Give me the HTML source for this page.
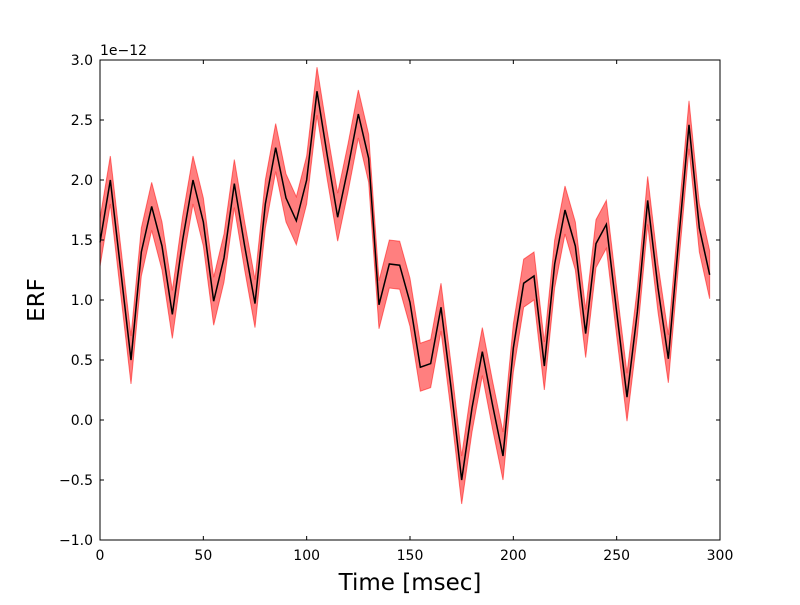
<!DOCTYPE html>
<html><head><meta charset="utf-8"><style>
body{margin:0;background:#fff;}
svg text{font-family:"DejaVu Sans","Liberation Sans",sans-serif;}
</style></head><body>
<svg id="chart" width="800" height="600" viewBox="0 0 800 600" xmlns="http://www.w3.org/2000/svg">
<rect width="800" height="600" fill="#fff"/>
<g id="plot"></g>
</svg>
<script>
const times = [0,5,10,15,20,25,30,35,40,45,50,55,60,65,70,75,80,85,90,95,100,105,110,115,120,125,130,135,140,145,150,155,160,165,170,175,180,185,190,195,200,205,210,215,220,225,230,235,240,245,250,255,260,265,270,275,280,285,290,295];
const meanValues = [1.48,2.0,1.25,0.5,1.4,1.78,1.45,0.88,1.5,2.0,1.65,0.99,1.35,1.97,1.45,0.97,1.8,2.27,1.85,1.66,2.0,2.74,2.2,1.69,2.1,2.55,2.18,0.96,1.3,1.29,0.98,0.44,0.47,0.94,0.25,-0.5,0.1,0.57,0.12,-0.3,0.6,1.14,1.2,0.45,1.3,1.75,1.45,0.72,1.47,1.63,0.9,0.19,0.9,1.83,1.1,0.51,1.5,2.46,1.6,1.21];
const errValues = [0.2,0.2,0.2,0.2,0.2,0.2,0.2,0.2,0.2,0.2,0.2,0.2,0.2,0.2,0.2,0.2,0.2,0.2,0.2,0.2,0.2,0.2,0.2,0.2,0.2,0.2,0.2,0.2,0.2,0.2,0.2,0.2,0.2,0.2,0.2,0.2,0.2,0.2,0.2,0.2,0.2,0.2,0.2,0.2,0.2,0.2,0.2,0.2,0.2,0.2,0.2,0.2,0.2,0.2,0.2,0.2,0.2,0.2,0.2,0.2];
const xTicks = [0,50,100,150,200,250,300];
const yTicks = [-1.0,-0.5,0.0,0.5,1.0,1.5,2.0,2.5,3.0];

const L=100,R=720,T=60,B=540;
const xs = v => L + (v-0)/(300-0)*(R-L);
const ys = v => B - (v-(-1))/(3-(-1))*(B-T);
const NS="http://www.w3.org/2000/svg";
const g=document.getElementById('plot');
function mk(tag,attrs){const e=document.createElementNS(NS,tag);for(const k in attrs)e.setAttribute(k,attrs[k]);g.appendChild(e);return e;}

let up=times.map((t,i)=>xs(t)+','+ys(meanValues[i]+errValues[i]));
let lo=times.map((t,i)=>xs(t)+','+ys(meanValues[i]-errValues[i])).reverse();
const band=mk('polygon',{points:up.concat(lo).join(' '),fill:'rgba(255,0,0,0.5)',stroke:'rgba(255,0,0,0.5)','stroke-width':1});


const line=mk('polyline',{points:times.map((t,i)=>xs(t)+','+ys(meanValues[i])).join(' '),fill:'none',stroke:'#000','stroke-width':1.5});



const frame=mk('rect',{x:L,y:T,width:R-L,height:B-T,fill:'none',stroke:'#000','stroke-width':1});



xTicks.forEach(v=>{
  const x=xs(v);
  mk('line',{x1:x,y1:B,x2:x,y2:B-4,stroke:'#000'});
  mk('line',{x1:x,y1:T,x2:x,y2:T+4,stroke:'#000'});
  const t=mk('text',{x:x,y:B+20,'text-anchor':'middle','font-size':14});
  t.textContent=v;
  
  
});
yTicks.forEach(v=>{
  const y=ys(v);
  mk('line',{x1:L,y1:y,x2:L+4,y2:y,stroke:'#000'});
  mk('line',{x1:R,y1:y,x2:R-4,y2:y,stroke:'#000'});
  const t=mk('text',{x:L-7,y:y+5,'text-anchor':'end','font-size':14});
  t.textContent=v.toFixed(1).replace('-','\u2212');
  
  
});
const off=mk('text',{x:L,y:T-5,'font-size':14});
off.textContent='1e\u221212';


const xl=mk('text',{x:(L+R)/2,y:590,'text-anchor':'middle','font-size':23});
xl.textContent='Time [msec]';


const yl=mk('text',{x:44,y:300,'text-anchor':'middle','font-size':23,transform:'rotate(-90 44 300)'});
yl.textContent='ERF';


</script>
</body></html>
